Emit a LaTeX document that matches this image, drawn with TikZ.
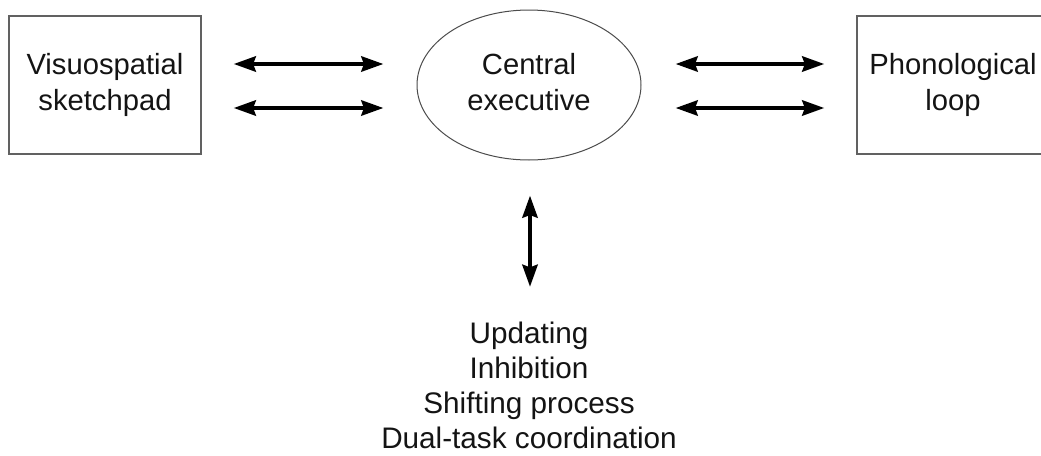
\documentclass[tikz,border=0pt]{standalone}
\usepackage{fontspec}
\setmainfont{Liberation Sans}
\usetikzlibrary{arrows.meta,shapes.geometric,calc}
\begin{document}
\begin{tikzpicture}[x=1pt,y=-1pt,
  txt/.style={font=\fontsize{29.2}{36}\selectfont, text=black!92, align=center, inner sep=0pt},
  boxshape/.style={draw=black!62, line width=1.2pt, minimum width=192pt, minimum height=138pt, inner sep=0pt},
  ellshape/.style={draw=black!70, line width=1pt, ellipse, minimum width=224pt, minimum height=150pt, inner sep=0pt},
  biarrow/.style={line width=4.5pt, {Stealth[length=22pt,width=15pt,inset=2.5pt]}-{Stealth[length=22pt,width=15pt,inset=2.5pt]}}
]
\useasboundingbox (0,0) rectangle (1041,455);
\fill[white] (0,0) rectangle (1041,455);

\node[boxshape] (vs) at (105,85) {};
\node[txt] (vstext) at (vs.center) {Visuospatial\\sketchpad};

\node[boxshape] (pl) at (953,85) {};
\node[txt] (pltext) at (pl.center) {Phonological\\loop};

\node[ellshape] (ce) at (529,85) {};
\node[txt, yshift=3pt] (cetext) at (ce.center) {Central\\executive};

\node[txt, font=\fontsize{29.7}{35}\selectfont] (fn) at (529,385.5) {Updating\\Inhibition\\Shifting process\\Dual-task coordination};

\draw[biarrow] ($(vs.east)+(32,-21)$) -- ($(ce.west)+(-33,-21)$);
\draw[biarrow] ($(vs.east)+(32,23)$) -- ($(ce.west)+(-33,23)$);
\draw[biarrow] ($(ce.east)+(34,-21)$) -- ($(pl.west)+(-32,-21)$);
\draw[biarrow] ($(ce.east)+(34,23)$) -- ($(pl.west)+(-32,23)$);
\draw[biarrow] ($(ce.south)+(1,35)$) -- ($(fn.north)+(1,-35)$);
\end{tikzpicture}
\end{document}
